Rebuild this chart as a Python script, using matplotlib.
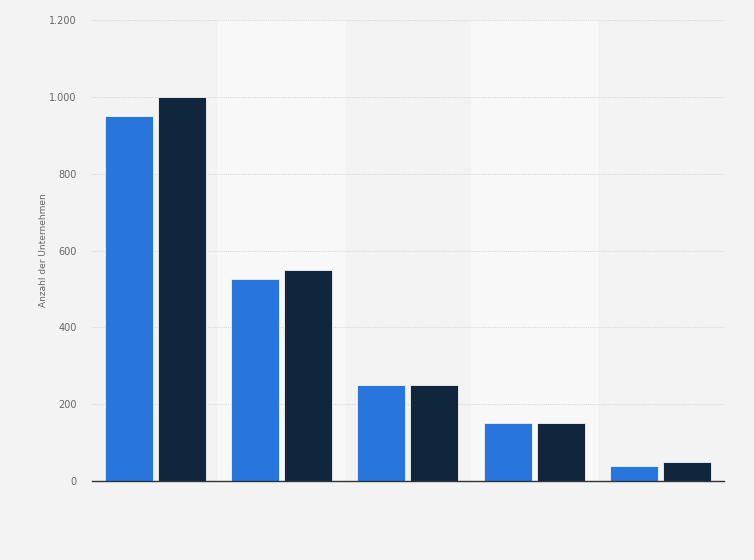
import numpy as np
import matplotlib.pyplot as plt
from matplotlib.ticker import FuncFormatter

categories = ['1', '2', '3', '4', '5']
series_a = [950, 525, 250, 150, 40]
series_b = [1000, 550, 250, 150, 50]
y_ticks = [0, 200, 400, 600, 800, 1000, 1200]

fig = plt.figure(figsize=(7.54, 5.6), dpi=100)
fig.patch.set_facecolor('#f3f3f3')
ax = fig.add_axes([0.122, 0.141, 0.838, 0.823])
ax.set_facecolor('#f3f3f3')

x = np.arange(len(categories))
for i in x:
    if i % 2 == 1:
        ax.axvspan(i - 0.5, i + 0.5, color='#f8f8f8', zorder=0)

w = 0.38
ax.bar(x - 0.21, series_a, w, color='#2876dd', edgecolor='#f4f4f4', linewidth=0.6, zorder=3)
ax.bar(x + 0.21, series_b, w, color='#10263c', edgecolor='#f4f4f4', linewidth=0.6, zorder=3)

ax.set_xlim(-0.5, len(categories) - 0.5)
ax.set_ylim(0, 1200)
ax.set_yticks(y_ticks)
ax.yaxis.set_major_formatter(FuncFormatter(lambda v, p: f'{int(v):,}'.replace(',', '.')))
ax.grid(axis='y', color='#d8d8d8', linestyle=(0, (1, 1)), linewidth=0.8, zorder=1)
ax.set_xticks([])
ax.tick_params(axis='y', length=0, labelsize=7, labelcolor='#666666', pad=11)
for s in ['top', 'right', 'left']:
    ax.spines[s].set_visible(False)
ax.spines['bottom'].set_color('#333333')
ax.spines['bottom'].set_linewidth(1.0)
ax.spines['bottom'].set_zorder(4)
ax.set_ylabel('Anzahl der Unternehmen', fontsize=6.5, color='#666666', labelpad=1)

fig.savefig('out.png', dpi=100, facecolor=fig.get_facecolor())
